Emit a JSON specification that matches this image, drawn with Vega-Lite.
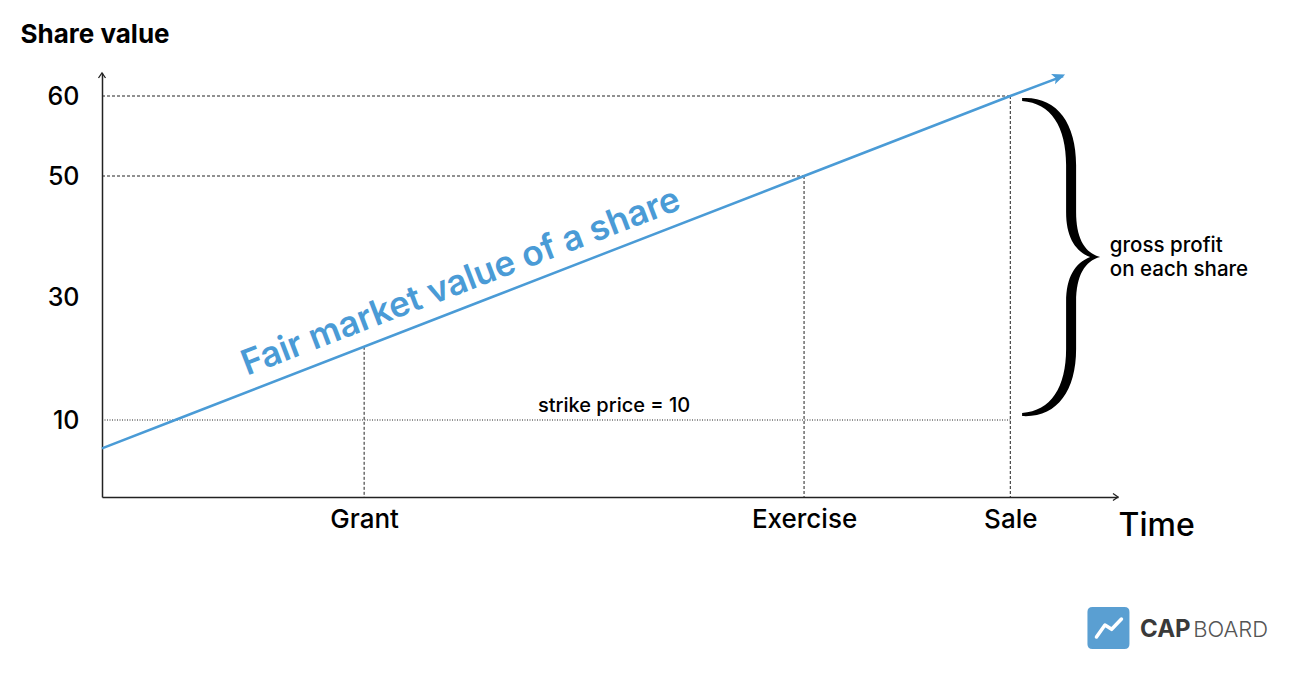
{
  "$schema": "https://vega.github.io/schema/vega-lite/v6.json",
  "width": 1016,
  "height": 424,
  "autosize": "none",
  "padding": {"left": 102, "top": 73, "right": 198, "bottom": 183},
  "background": "white",
  "config": {"view": {"stroke": null}, "font": "Inter"},
  "encoding": {
    "x": {
      "field": "t", "type": "quantitative",
      "scale": {"domain": [0, 100], "zero": false, "nice": false},
      "axis": {
        "values": [25.8, 69.1, 89.4],
        "labelExpr": "datum.value < 40 ? 'Grant' : (datum.value < 80 ? 'Exercise' : 'Sale')",
        "ticks": false, "grid": false,
        "domainColor": "#222", "domainWidth": 1.5,
        "labelFont": "Inter", "labelFontSize": 26, "labelFontWeight": 500, "labelColor": "#000", "labelPadding": 9,
        "labelFlush": false, "labelOverlap": false, "labelBound": false,
        "title": "Time", "titleFont": "Inter", "titleFontSize": 32, "titleFontWeight": 500,
        "titleColor": "#000", "titleX": 1016, "titleY": 28, "titleAlign": "left", "titleBaseline": "middle", "titleAnchor": null
      }
    },
    "y": {
      "field": "v", "type": "quantitative",
      "scale": {"domain": [-2.5, 10, 30, 50, 60, 63], "range": [424, 347, 224, 103, 23, 0], "zero": false, "nice": false},
      "axis": {
        "values": [10, 30, 50, 60],
        "ticks": false, "grid": false,
        "domainColor": "#222", "domainWidth": 1.5,
        "labelFont": "Inter", "labelFontSize": 25, "labelFontWeight": 500, "labelColor": "#000", "labelPadding": 23,
        "labelOverlap": false, "labelBound": false,
        "title": "Share value", "titleFont": "Inter", "titleFontSize": 26, "titleFontWeight": "bold",
        "titleColor": "#000", "titleAngle": 0, "titleX": -82, "titleY": -39, "titleAlign": "left", "titleBaseline": "middle", "titleAnchor": null
      }
    }
  },
  "layer": [
    {
      "data": {"values": [
        {"t": 0, "t2": 89.4, "v": 60, "v2": 60},
        {"t": 0, "t2": 69.1, "v": 50, "v2": 50},
        {"t": 25.8, "t2": 25.8, "v": 21.9, "v2": -2.5},
        {"t": 69.1, "t2": 69.1, "v": 50, "v2": -2.5},
        {"t": 89.4, "t2": 89.4, "v": 60, "v2": -2.5}
      ]},
      "mark": {"type": "rule", "color": "#222", "strokeWidth": 1, "strokeDash": [3, 2]},
      "encoding": {"x2": {"field": "t2"}, "y2": {"field": "v2"}}
    },
    {
      "data": {"values": [{"t": 0, "t2": 89.4, "v": 10, "v2": 10}]},
      "mark": {"type": "rule", "color": "#222", "strokeWidth": 1, "strokeDash": [1, 1.5]},
      "encoding": {"x2": {"field": "t2"}, "y2": {"field": "v2"}}
    },
    {
      "data": {"values": [
        {"t": 0, "v": 5.4}, {"t": 7.2, "v": 10}, {"t": 38.4, "v": 30},
        {"t": 69.1, "v": 50}, {"t": 89.4, "v": 60}, {"t": 94.6, "v": 62.6}
      ]},
      "mark": {"type": "line", "color": "#4a9bd6", "strokeWidth": 2.5}
    },
    {
      "data": {"values": [{"t": 94.8, "v": 62.8}]},
      "mark": {"type": "point", "shape": "M 0,0 L -13,-5.5 L -10,0 L -13,5.5 Z", "size": 4, "angle": 338.8,
               "filled": true, "fill": "#4a9bd6", "strokeWidth": 0, "opacity": 1}
    },
    {
      "data": {"values": [{"t": 0, "v": 63}]},
      "mark": {"type": "point", "shape": "M -3.5,5 L 0,0 L 3.5,5", "size": 4,
               "filled": false, "stroke": "#222", "strokeWidth": 1.3, "opacity": 1}
    },
    {
      "data": {"values": [{"t": 100, "v": -2.5}]},
      "mark": {"type": "point", "shape": "M -5,-3.5 L 0,0 L -5,3.5", "size": 4,
               "filled": false, "stroke": "#222", "strokeWidth": 1.3, "opacity": 1}
    },
    {
      "data": {"values": [{"t": 94.4, "v": 36.6}]},
      "mark": {"type": "point",
               "shape": "M -39,-159 C -5,-161 15,-135 15,-92 L 15,-45 C 15,-18 24,-4 39,0 C 24,4 15,18 15,45 L 15,92 C 15,135 -5,161 -39,159 L -39,156 C -10,154 5,130 5,92 L 5,45 C 5,20 14,6 29,0 C 14,-6 5,-20 5,-45 L 5,-92 C 5,-130 -10,-154 -39,-156 Z",
               "size": 4, "filled": true, "fill": "#000", "strokeWidth": 0, "opacity": 1}
    },
    {
      "data": {"values": [{"t": 35.7, "v": 30.8, "label": "Fair market value of a share"}]},
      "mark": {"type": "text", "font": "Inter", "fontSize": 35, "fontWeight": 600, "color": "#4a9bd6",
               "angle": 339, "align": "center", "baseline": "alphabetic"},
      "encoding": {"text": {"field": "label"}}
    },
    {
      "data": {"values": [{"t": 50.4, "v": 11.3, "label": "strike price = 10"}]},
      "mark": {"type": "text", "font": "Inter", "fontSize": 20, "fontWeight": 500, "color": "#000", "align": "center", "baseline": "alphabetic"},
      "encoding": {"text": {"field": "label"}}
    },
    {
      "data": {"values": [{"t": 99.2, "v": 37.5, "label": "gross profit\non each share"}]},
      "mark": {"type": "text", "font": "Inter", "fontSize": 20.5, "fontWeight": 500, "lineHeight": 24, "lineBreak": "\n", "color": "#000", "align": "left", "baseline": "alphabetic"},
      "encoding": {"text": {"field": "label"}}
    },
    {
      "data": {"values": [{"t": 99.06, "v": -23.77}]},
      "mark": {"type": "point",
               "shape": "M -21,-16 Q -21,-21 -16,-21 L 16,-21 Q 21,-21 21,-16 L 21,16 Q 21,21 16,21 L -16,21 Q -21,21 -21,16 Z",
               "size": 4, "filled": true, "fill": "#5a9fd2", "strokeWidth": 0, "opacity": 1}
    },
    {
      "data": {"values": [{"t": 99.06, "v": -23.77}]},
      "mark": {"type": "point", "shape": "M -12,9 L -3.5,-3 L 3.2,1.3 L 13,-9", "size": 4,
               "filled": false, "stroke": "white", "strokeWidth": 3.5, "strokeCap": "round", "strokeJoin": "round", "opacity": 1}
    },
    {
      "data": {"values": [{"t": 102.17, "v": -25.2, "label": "CAP"}]},
      "mark": {"type": "text", "font": "Inter", "fontSize": 24, "fontWeight": "bold", "color": "#3a3a3a", "align": "left", "baseline": "alphabetic"},
      "encoding": {"text": {"field": "label"}}
    },
    {
      "data": {"values": [{"t": 107.4, "v": -25.2, "label": "BOARD"}]},
      "mark": {"type": "text", "font": "Inter", "fontSize": 22, "fontWeight": 300, "color": "#555", "align": "left", "baseline": "alphabetic"},
      "encoding": {"text": {"field": "label"}}
    }
  ]
}
